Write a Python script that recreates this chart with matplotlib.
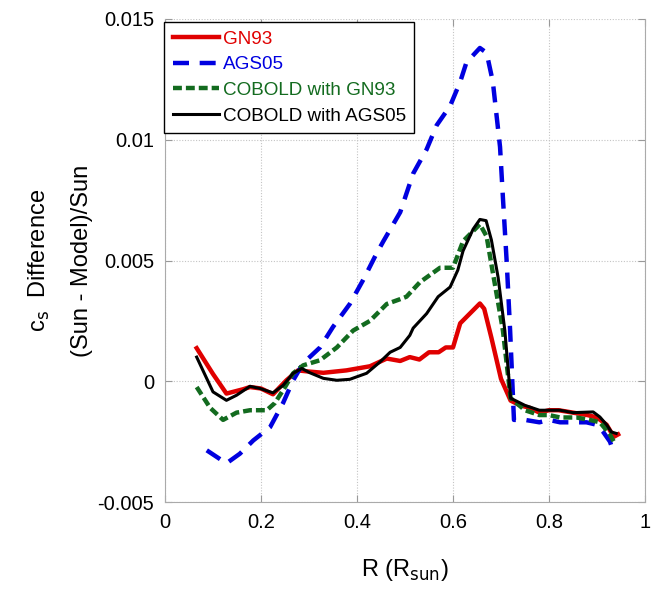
import matplotlib
matplotlib.use("Agg")
import matplotlib.pyplot as plt

plt.rcParams['font.family'] = ['Liberation Sans', 'DejaVu Sans']

# GN93
r_gn93 = [0.066, 0.10, 0.128, 0.163, 0.177, 0.20, 0.225, 0.253, 0.277, 0.30, 0.33, 0.378, 0.427,
          0.462, 0.49, 0.51, 0.53, 0.55, 0.57, 0.585, 0.60, 0.615, 0.64, 0.656, 0.665, 0.68,
          0.70, 0.72, 0.74, 0.76, 0.78, 0.80, 0.82, 0.85, 0.88, 0.90, 0.92, 0.935, 0.944]
v_gn93 = [0.00137, 0.0003, -0.00051, -0.00033, -0.00024, -0.0003, -0.00054, 0.00004, 0.00045,
          0.0004, 0.00035, 0.00045, 0.00062, 0.00094, 0.00084, 0.001, 0.0009, 0.0012, 0.0012,
          0.0014, 0.0014, 0.0024, 0.0029, 0.00322, 0.003, 0.0018, 0.0001, -0.0008, -0.001,
          -0.0011, -0.0013, -0.0012, -0.0012, -0.0013, -0.0014, -0.0015, -0.0018, -0.0023, -0.0022]

# AGS05
r_ags05 = [0.087, 0.128, 0.156, 0.184, 0.219, 0.246, 0.267, 0.288, 0.323, 0.35, 0.385, 0.413,
           0.441, 0.455, 0.49, 0.517, 0.545, 0.566, 0.594, 0.615, 0.628, 0.656, 0.67, 0.683,
           0.698, 0.704, 0.712, 0.719, 0.727, 0.75, 0.78, 0.80, 0.823, 0.85, 0.878, 0.899,
           0.913, 0.927, 0.934]
v_ags05 = [-0.00286, -0.0034, -0.0030, -0.00245, -0.0019, -0.0009, 0.00004, 0.00075, 0.0014,
           0.00225, 0.0032, 0.0042, 0.0053, 0.0058, 0.0070, 0.0086, 0.0096, 0.0106, 0.0114,
           0.0124, 0.0132, 0.0138, 0.0136, 0.0124, 0.0097, 0.0076, 0.0049, 0.0021, -0.0016,
           -0.0016, -0.0017, -0.0016, -0.0017, -0.0017, -0.0017, -0.0018, -0.0021, -0.0025, -0.0029]

# COBOLD with GN93
r_cob_gn93 = [0.066, 0.094, 0.121, 0.149, 0.177, 0.212, 0.229, 0.25, 0.267, 0.288, 0.323, 0.358,
              0.392, 0.427, 0.462, 0.49, 0.503, 0.531, 0.573, 0.60, 0.621, 0.656, 0.67, 0.683,
              0.698, 0.704, 0.72, 0.75, 0.78, 0.80, 0.823, 0.857, 0.885, 0.906, 0.927, 0.9375]
v_cob_gn93 = [-0.00024, -0.0011, -0.0016, -0.0013, -0.0012, -0.0012, -0.0009, -0.00024, 0.00033,
              0.00066, 0.00087, 0.0014, 0.0021, 0.0025, 0.0032, 0.0034, 0.0035, 0.0041, 0.0047,
              0.0047, 0.0058, 0.0065, 0.006, 0.0045, 0.0028, 0.0021, -0.0007, -0.0012, -0.0014,
              -0.0014, -0.0015, -0.0015, -0.0016, -0.0017, -0.0022, -0.0026]

# COBOLD with AGS05
r_cob_ags05 = [0.066, 0.10, 0.128, 0.149, 0.177, 0.198, 0.225, 0.246, 0.267, 0.285, 0.302, 0.33,
               0.358, 0.385, 0.42, 0.448, 0.469, 0.49, 0.51, 0.517, 0.545, 0.569, 0.594, 0.61,
               0.621, 0.642, 0.656, 0.669, 0.68, 0.694, 0.708, 0.72, 0.75, 0.78, 0.80, 0.823,
               0.85, 0.892, 0.906, 0.92, 0.93, 0.94]
v_cob_ags05 = [0.001, -0.00044, -0.00079, -0.00058, -0.00021, -0.0003, -0.00048, -0.00017, 0.00033,
               0.00053, 0.00035, 0.00012, 0.00004, 0.00008, 0.00033, 0.0008, 0.0012, 0.0014, 0.0019,
               0.0022, 0.0028, 0.0035, 0.0039, 0.0046, 0.0054, 0.0063, 0.0067, 0.00665, 0.00585,
               0.0043, 0.0021, -0.0007, -0.001, -0.0012, -0.0012, -0.0012, -0.0013, -0.00127,
               -0.00148, -0.0018, -0.0021, -0.00216]

x_ticks = [0, 0.2, 0.4, 0.6, 0.8, 1]
x_tick_labels = ['0', '0.2', '0.4', '0.6', '0.8', '1']
y_ticks = [-0.005, 0, 0.005, 0.01, 0.015]
y_tick_labels = ['-0.005', '0', '0.005', '0.01', '0.015']

red = '#e00000'
blue = '#0000e0'
green = '#136b1f'

fig = plt.figure(figsize=(6.51, 5.94), dpi=100)
ax = fig.add_axes([165 / 651, 1 - 502 / 594, 480 / 651, 483 / 594])

ax.plot(r_gn93, v_gn93, color=red, lw=3.2, label='GN93', solid_joinstyle='round')
ax.plot(r_ags05, v_ags05, color=blue, lw=3.2, dashes=(3.6, 2.4), label='AGS05')
ax.plot(r_cob_gn93, v_cob_gn93, color=green, lw=3.2, dashes=(2.0, 0.9), label='COBOLD with GN93')
ax.plot(r_cob_ags05, v_cob_ags05, color='black', lw=2.2, label='COBOLD with AGS05')

ax.set_xlim(0, 1)
ax.set_ylim(-0.005, 0.015)
ax.set_xticks(x_ticks)
ax.set_xticklabels(x_tick_labels)
ax.set_yticks(y_ticks)
ax.set_yticklabels(y_tick_labels)
ax.tick_params(direction='in', labelsize=14.5, length=5, color='#999999', right=True, top=True,
               pad=8)
ax.grid(True, color='#c4c4c4', linestyle=(0, (1, 1.5)), lw=0.8)
for s in ['left', 'right', 'bottom']:
    ax.spines[s].set_color('#aaaaaa')
ax.spines['top'].set_visible(False)

ax.set_xlabel('R (R$_{\\rm sun}$)', fontsize=17, labelpad=18)
ax.set_ylabel('c$_{\\rm s}$  Difference\n(Sun - Model)/Sun', fontsize=17, linespacing=2.1)
ax.yaxis.set_label_coords(-0.151, 0.5)

leg = ax.legend(loc='upper left', bbox_to_anchor=(-0.002, 0.994), fontsize=13.6,
                fancybox=False, framealpha=1, edgecolor='black', borderaxespad=0,
                handlelength=2.45, handletextpad=0.2, borderpad=0.45, labelspacing=0.45)
leg.get_frame().set_linewidth(1.0)
for txt, c in zip(leg.get_texts(), [red, blue, green, 'black']):
    txt.set_color(c)

fig.savefig('out.png', dpi=100)
